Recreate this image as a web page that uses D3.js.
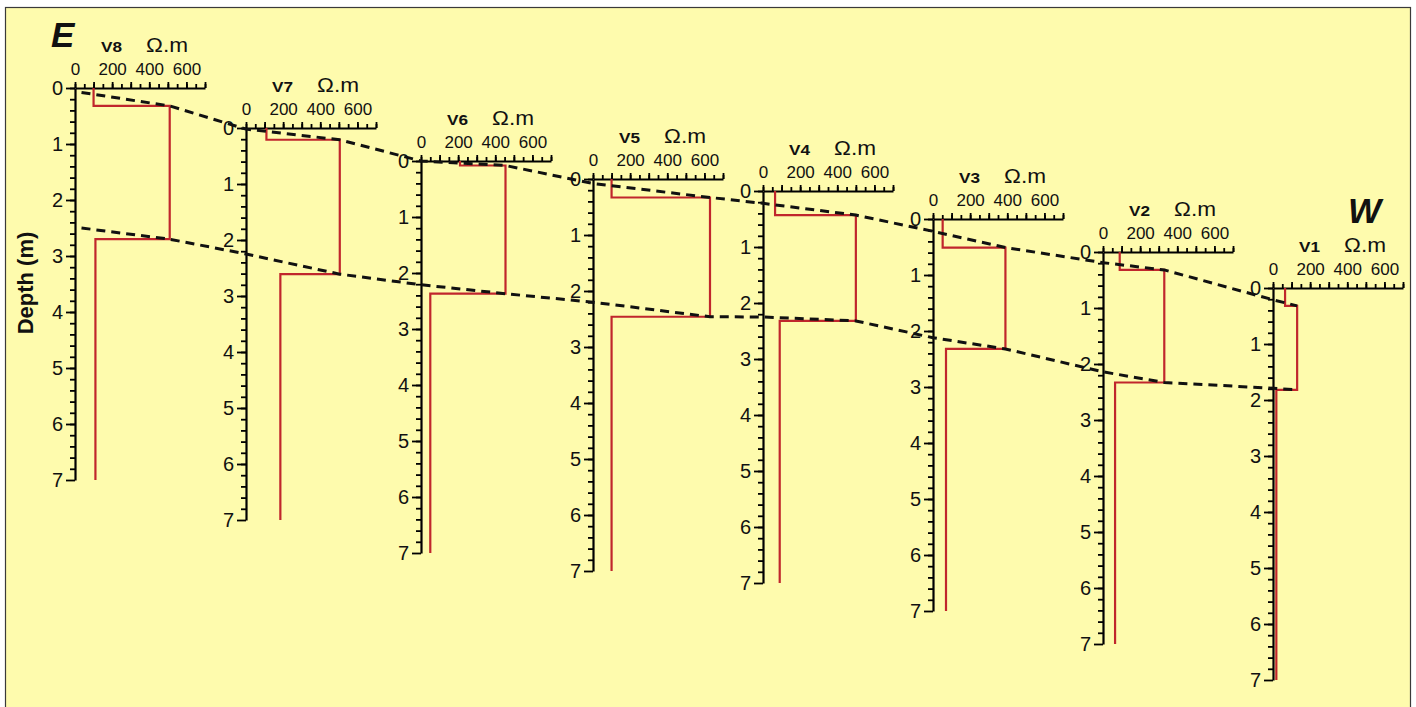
<!DOCTYPE html>
<html>
<head>
<meta charset="utf-8">
<script src="https://cdn.jsdelivr.net/npm/d3@7"></script>
<style>
  html, body { margin: 0; padding: 0; background: #ffffff; }
  svg { display: block; font-family: "Liberation Sans", Arial, sans-serif; }
</style>
</head>
<body>
<svg id="chart" width="1416" height="707"></svg>
<script>
// Vertical electrical soundings, E to W: three-layer resistivity models
const soundings  = ["V8", "V7", "V6", "V5", "V4", "V3", "V2", "V1"];
const layer1Rho  = [100, 110, 210, 100, 65, 52, 90, 65];        // Ω.m
const layer1Base = [0.32, 0.21, 0.08, 0.33, 0.43, 0.51, 0.32, 0.32]; // m
const layer2Rho  = [510, 505, 455, 630, 500, 390, 330, 130];    // Ω.m
const layer2Base = [2.70, 2.61, 2.37, 2.46, 2.32, 2.32, 2.33, 1.82]; // m
const layer3Rho  = [110, 185, 50, 100, 90, 70, 65, 18];         // Ω.m
const maxDepth   = 7;

// Correlated interfaces: where each line meets the depth axis of a sounding
const topLineStartRho   = [35, 0, 0, 0, 0, 0, 0, 0];
const topLineStartDepth = [0.08, 0.02, 0.0, 0.08, 0.22, 0.22, 0.19, 0.21];
const baseLineStartRho   = [35, 0, 0, 0, 0, 0, 0, 0];
const baseLineStartDepth = [2.50, 2.25, 2.21, 2.20, 2.25, 2.12, 2.14, 1.79];

const rhoTicksMajor = [0, 200, 400, 600];
const rhoDomain = [0, 700];
const depthTicks = [0, 1, 2, 3, 4, 5, 6, 7];

// Layout
const panelX = [75, 246, 421, 593, 763, 933, 1103, 1273];
const panelY = [88, 128, 161, 179, 191, 219, 252, 288];
const RED = "#c0262c";
const FONT = "'Liberation Sans', Arial, sans-serif";

const svg = d3.select("#chart");

svg.append("rect")
  .attr("x", 5.5).attr("y", 7.5)
  .attr("width", 1405).attr("height", 720)
  .attr("fill", "#fefbad")
  .attr("stroke", "#3a3a3a").attr("stroke-width", 1.2);

const x = d3.scaleLinear().domain(rhoDomain).range([0, 130]);
const y = d3.scaleLinear().domain([0, maxDepth]).range([0, 392]);

soundings.forEach((name, i) => {
  const g = svg.append("g").attr("transform", `translate(${panelX[i]},${panelY[i]})`);

  // resistivity axis (top)
  g.append("g")
    .call(d3.axisTop(x).tickValues(d3.range(0, 701, 50)).tickSize(4).tickSizeOuter(0).tickFormat(""))
    .call(a => a.select(".domain").attr("stroke-width", 2))
    .call(a => a.selectAll(".tick line").attr("stroke-width", 1.8));
  g.append("g")
    .call(d3.axisTop(x).tickValues(d3.range(0, 701, 100)).tickSize(6).tickSizeOuter(0).tickPadding(7)
      .tickFormat(d => rhoTicksMajor.includes(d) ? d : ""))
    .attr("font-family", FONT).attr("font-size", 17)
    .call(a => a.select(".domain").remove())
    .call(a => a.selectAll(".tick line").attr("stroke-width", 1.8))
    .call(a => a.selectAll("text").attr("fill", "#111"));

  // depth axis (left)
  g.append("g")
    .call(d3.axisLeft(y).tickValues(d3.range(0, 35).map(k => k * 0.2)).tickSize(5).tickSizeOuter(0).tickFormat(""))
    .call(a => a.select(".domain").attr("stroke-width", 2.2))
    .call(a => a.selectAll(".tick line").attr("stroke-width", 1.8));
  g.append("g")
    .call(d3.axisLeft(y).tickValues(depthTicks).tickSize(9).tickSizeOuter(0).tickPadding(3)
      .tickFormat(d3.format("d")))
    .attr("font-family", FONT).attr("font-size", 20)
    .call(a => a.select(".domain").remove())
    .call(a => a.selectAll(".tick line").attr("stroke-width", 1.8))
    .call(a => a.selectAll("text").attr("fill", "#111"));

  // title
  g.append("text").attr("x", 26).attr("y", -36)
    .attr("font-size", 14).attr("font-weight", "bold").attr("fill", "#111")
    .attr("textLength", 21).attr("lengthAdjust", "spacingAndGlyphs").text(name);
  g.append("text").attr("x", 71).attr("y", -36)
    .attr("font-size", 20).attr("fill", "#111")
    .attr("textLength", 42).attr("lengthAdjust", "spacingAndGlyphs").text("Ω.m");

  // layered model
  const steps = [
    [layer1Rho[i], 0], [layer1Rho[i], layer1Base[i]],
    [layer2Rho[i], layer1Base[i]], [layer2Rho[i], layer2Base[i]],
    [layer3Rho[i], layer2Base[i]], [layer3Rho[i], maxDepth]
  ];
  g.append("path")
    .attr("d", d3.line().x(d => x(d[0])).y(d => y(d[1]))(steps))
    .attr("fill", "none").attr("stroke", RED).attr("stroke-width", 2.2);
});

// interface correlation lines across soundings
function interfacePoints(startRho, startDepth, baseDepth) {
  const pts = [];
  soundings.forEach((_, i) => {
    pts.push([panelX[i] + x(startRho[i]), panelY[i] + y(startDepth[i])]);
    pts.push([panelX[i] + x(layer2Rho[i]), panelY[i] + y(baseDepth[i])]);
  });
  return pts;
}
[interfacePoints(topLineStartRho, topLineStartDepth, layer1Base),
 interfacePoints(baseLineStartRho, baseLineStartDepth, layer2Base)].forEach(pts => {
  svg.append("path")
    .attr("d", d3.line()(pts))
    .attr("fill", "none").attr("stroke", "#111").attr("stroke-width", 3)
    .attr("stroke-dasharray", "9,6");
});

// depth label
svg.append("text")
  .attr("transform", "translate(33,283) rotate(-90)")
  .attr("text-anchor", "middle").attr("font-size", 22).attr("font-weight", "bold")
  .attr("fill", "#111").text("Depth (m)");

// orientation
svg.append("text").attr("x", 51).attr("y", 47)
  .attr("font-size", 35).attr("font-weight", "bold").attr("font-style", "italic")
  .attr("fill", "#111").text("E");
svg.append("text").attr("x", 1348).attr("y", 223)
  .attr("font-size", 35).attr("font-weight", "bold").attr("font-style", "italic")
  .attr("fill", "#111").text("W");
</script>
</body>
</html>
